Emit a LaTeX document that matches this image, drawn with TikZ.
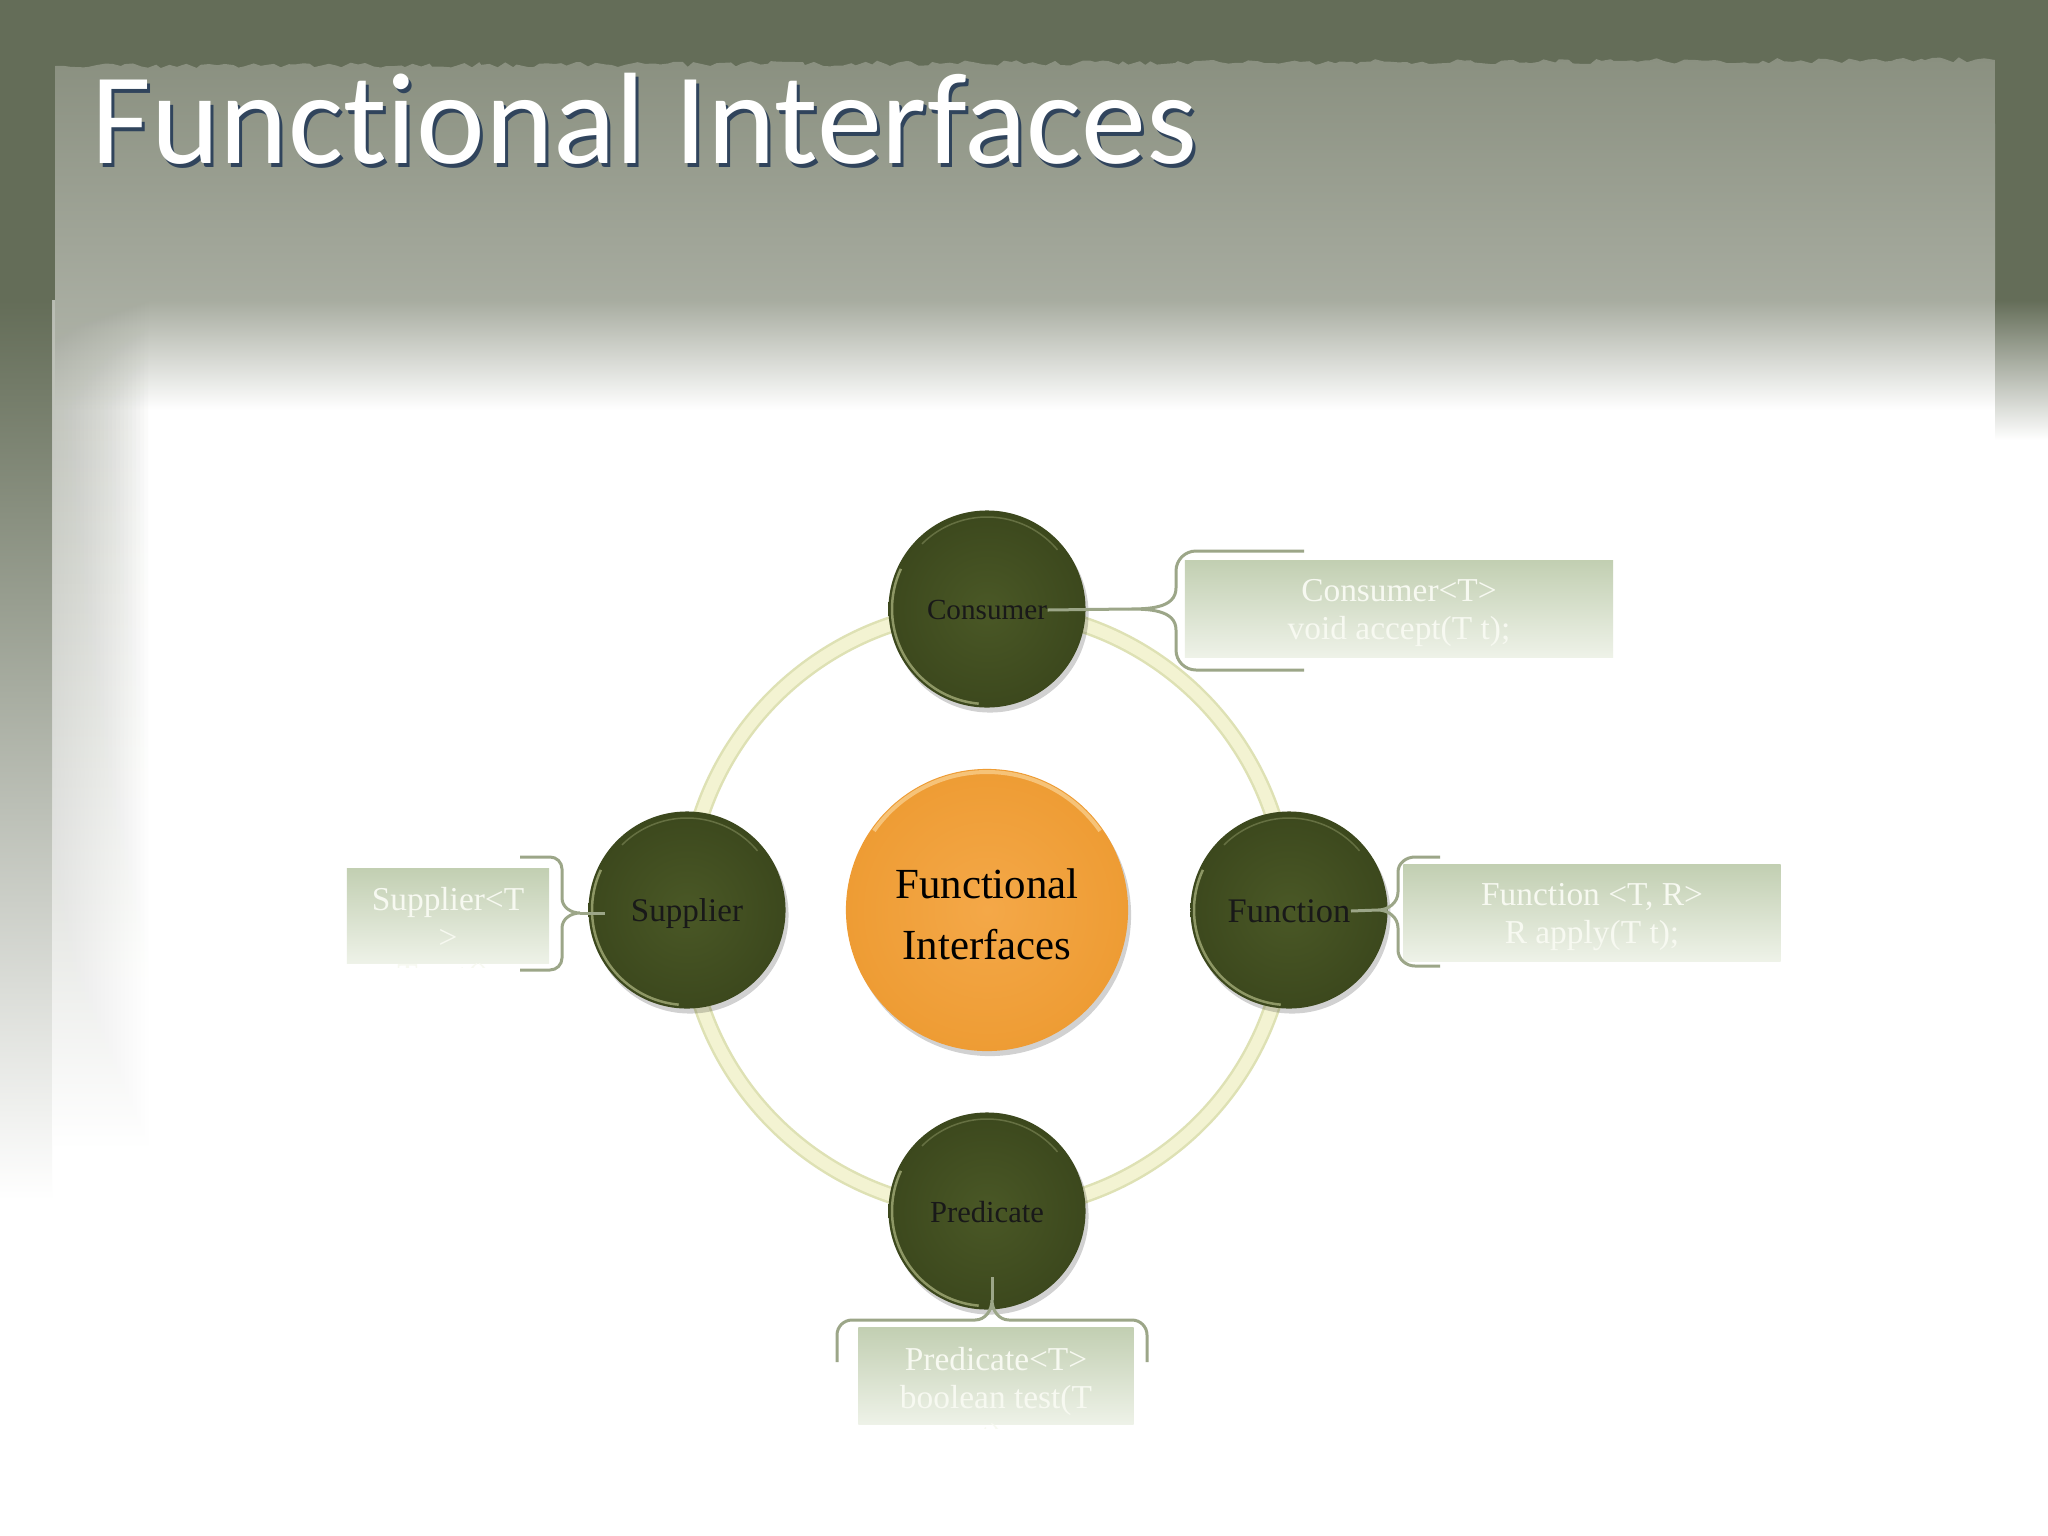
\documentclass[tikz,border=0pt]{standalone}
\usepackage{fontspec}
\setmainfont{Liberation Serif}
\newfontfamily\titlefont[Ligatures=NoCommon]{Carlito}
\usepackage{tikz}
\usetikzlibrary{calc, shadows, decorations.pathmorphing}

\definecolor{bgdark}{RGB}{100, 109, 88}
\definecolor{bggray}{RGB}{138, 144, 128}
\definecolor{ringyellow}{RGB}{243, 243, 210}
\definecolor{ringedge}{RGB}{222, 225, 180}
\definecolor{olivein}{RGB}{74, 88, 38}
\definecolor{oliveout}{RGB}{60, 72, 29}
\definecolor{olivelight}{RGB}{196, 204, 150}
\definecolor{orangein}{RGB}{244, 168, 72}
\definecolor{orangeout}{RGB}{238, 156, 52}
\definecolor{orangelight}{RGB}{250, 212, 150}
\definecolor{bracegreen}{RGB}{156, 166, 136}
\definecolor{boxtop}{RGB}{194, 207, 178}
\definecolor{boxbottom}{RGB}{238, 242, 232}
\definecolor{boxtext}{RGB}{247, 249, 241}
\definecolor{titleshadow}{RGB}{48, 68, 92}

\tikzset{
  satellite/.style={circle, minimum size=1.97cm, inner sep=0pt, inner color=olivein, outer color=oliveout,
    drop shadow={shadow xshift=0.03cm, shadow yshift=-0.05cm, opacity=0.18, fill=black}},
  callout/.style={rectangle, inner sep=0pt, top color=boxtop, bottom color=boxbottom},
  codetext/.style={inner sep=0pt, align=center, text=boxtext, font=\fontsize{9.5}{10.8}\selectfont},
  bracketline/.style={draw=bracegreen, line width=0.03cm},
  satlabel/.style={inner sep=0pt, text=black!90},
}

\begin{document}
\begin{tikzpicture}[x=0.01cm, y=-0.01cm]
  \useasboundingbox (0,0) rectangle (2048,1536);

  % Background
  \fill[white] (0,0) rectangle (2048,1536);
  \fill[bgdark] (0,0) rectangle (2048,300);
  \pgfmathsetseed{11}
  \shade[top color=bggray, bottom color=bggray!75!white] (55,300) -- (55,66)
    decorate[decoration={random steps, segment length=2pt, amplitude=0.8pt}] {-- (1995,60)}
    -- (1995,300) -- cycle;
  \shade[top color=bggray!75!white, bottom color=white] (55,300) rectangle (1995,410);
  \shade[top color=bgdark, bottom color=white] (0,300) rectangle (52,1200);
  \foreach \w in {56,60,...,150}
    \shade[top color=bggray!75!white, bottom color=white, opacity=0.05] (52,300) rectangle (\w,1150);
  \shade[top color=bgdark, bottom color=white] (1995,300) rectangle (2048,440);

  % Title
  \node[anchor=base west, inner sep=0pt, font=\titlefont\fontsize{37}{40}\selectfont, text=titleshadow] (titleback) at (94,167) {Functional Interfaces};
  \node[anchor=base west, inner sep=0pt, font=\titlefont\fontsize{37}{40}\selectfont, text=white] (title) at (91,163) {Functional Interfaces};

  % Core and ring
  \node[circle, minimum size=2.82cm, inner sep=0pt, inner color=orangein, outer color=orangeout,
        drop shadow={shadow xshift=0.03cm, shadow yshift=-0.05cm, opacity=0.18, fill=black}] (core) at (987,910) {};
  \draw[orangelight, line width=0.04cm, opacity=0.7] ($(core)+(215:138)$) arc[start angle=215, end angle=325, radius=138];
  \node[align=center, font=\fontsize{12.2}{17.4}\selectfont] (coretxt) at (987,914) {Functional\\Interfaces};
  \draw[ringedge, line width=0.17cm] (core) circle[radius=301];
  \draw[ringyellow, line width=0.12cm] (core) circle[radius=301];

  % Satellites
  \node[satellite] (cons) at (987,609) {};
  \node[satellite] (supp) at (687,910) {};
  \node[satellite] (func) at (1289,910) {};
  \node[satellite] (pred) at (987,1211) {};
  \foreach \n in {cons, supp, func, pred} {
    \draw[olivelight, line width=0.025cm, opacity=0.6] ($(\n)+(95:95)$) arc[start angle=95, end angle=205, radius=95];
    \draw[olivelight, line width=0.015cm, opacity=0.3] ($(\n)+(225:92)$) arc[start angle=225, end angle=320, radius=92];
  }

  \node[satlabel, font=\fontsize{8.3}{10}\selectfont] (constxt) at (987,610) {Consumer};
  \node[satlabel, font=\fontsize{9.4}{11}\selectfont] (supptxt) at (687,914) {Supplier};
  \node[satlabel, font=\fontsize{9.8}{11}\selectfont] (functxt) at (1289,911) {Function};
  \node[satlabel, font=\fontsize{8.7}{10}\selectfont] (predtxt) at (987,1212) {Predicate};

  % Callout boxes
  \node[callout, minimum width=4.28cm, minimum height=0.96cm] (consbox) at (1399,609) {};
  \node[callout, minimum width=3.77cm, minimum height=0.96cm] (funcbox) at (1592,913) {};
  \node[callout, minimum width=2.02cm, minimum height=0.95cm] (suppbox) at (448,916) {};
  \node[callout, minimum width=2.75cm, minimum height=0.97cm] (predbox) at (996,1376) {};
  \node[codetext] (conscode) at ($(consbox)+(0,4)$) {Consumer<T>\\void accept(T t);};
  \node[codetext] (funccode) at ($(funcbox)+(0,4)$) {Function <T, R>\\R apply(T t);};
  \begin{scope}
    \clip (suppbox.north west) rectangle ($(suppbox.south east)+(0,3)$);
    \node[codetext, anchor=north] (suppcode) at ($(suppbox.north)+(0,19)$) {Supplier<T\\>\\T get();};
  \end{scope}
  \begin{scope}
    \clip (predbox.north west) rectangle ($(predbox.south east)+(0,3)$);
    \node[codetext, anchor=north] (predcode) at ($(predbox.north)+(0,20)$) {Predicate<T>\\boolean test(T\\t);};
  \end{scope}

  % Brackets
  \coordinate (constip) at (1128,609);
  \draw[bracketline] (constxt.east) -- (constip);
  \draw[bracketline] (1304,551) -- (1196,551) to[out=180,in=90] (1176,571) -- (1176,588)
    to[out=270,in=0] (constip) to[out=0,in=90] (1176,630) -- (1176,650) to[out=270,in=180] (1196,670) -- (1304,670);

  \coordinate (functip) at (1378,910);
  \draw[bracketline] (functxt.east) -- (functip);
  \draw[bracketline] (1440,857) -- (1415,857) to[out=180,in=90] (1398,872) -- (1398,892)
    to[out=270,in=0] (functip) to[out=0,in=90] (1398,928) -- (1398,950) to[out=270,in=180] (1415,966) -- (1440,966);

  \coordinate (supptip) at (580,913);
  \coordinate (suppend) at (605,913);
  \draw[bracketline] (supptip) -- (suppend);
  \draw[bracketline] (520,857) -- (550,857) to[out=0,in=90] (562,869) -- (562,898)
    to[out=270,in=180] (supptip) to[out=180,in=90] (562,928) -- (562,958) to[out=270,in=0] (550,970) -- (520,970);

  \coordinate (predtip) at (992,1300);
  \coordinate (predend) at (992,1277);
  \draw[bracketline] (predtip) -- (predend);
  \draw[bracketline] (837,1362) -- (837,1335) to[out=90,in=180] (852,1320) -- (975,1320)
    to[out=0,in=270] (predtip) to[out=270,in=180] (1009,1320) -- (1132,1320) to[out=0,in=90] (1147,1335) -- (1147,1362);
\end{tikzpicture}
\end{document}
